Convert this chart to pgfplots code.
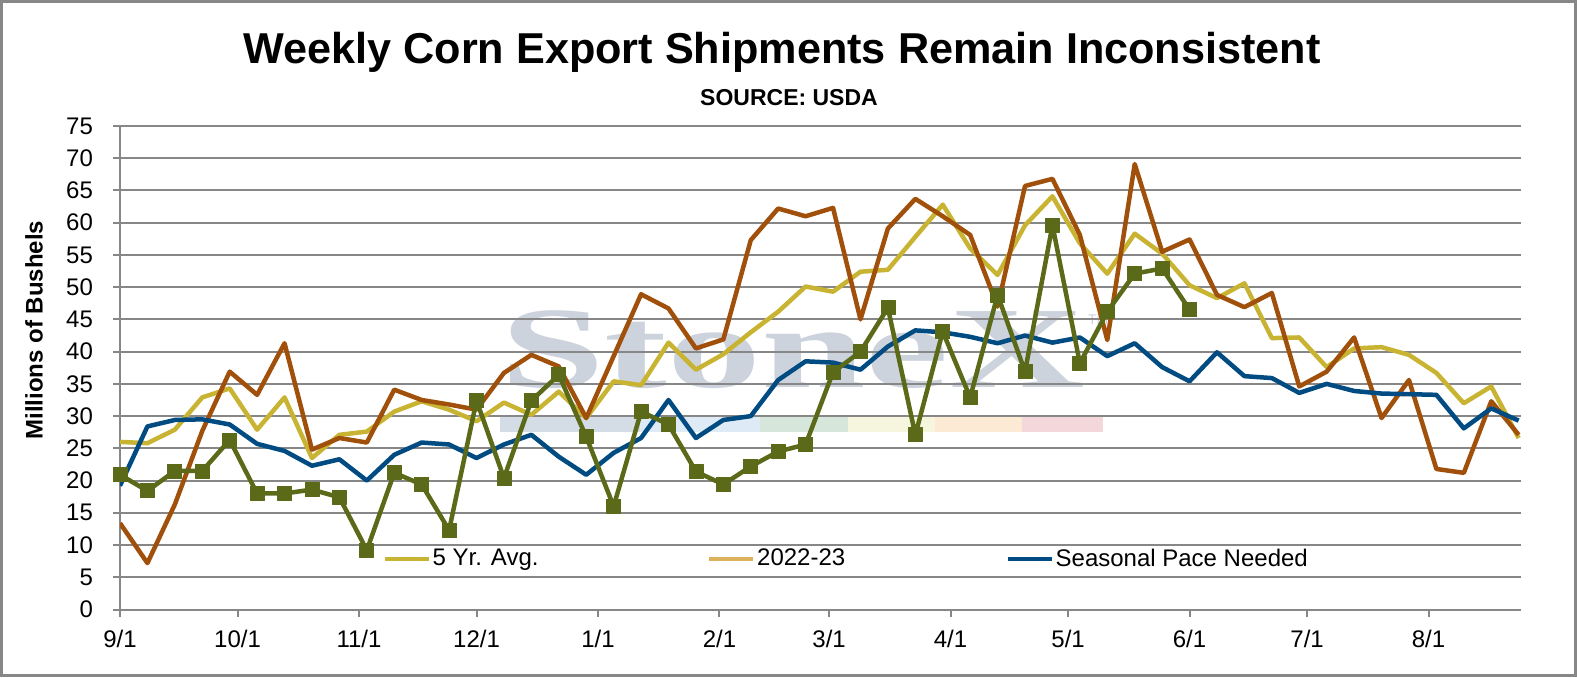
\documentclass[border=0pt]{standalone}
\usepackage{fontspec}
\setmainfont{Liberation Sans}
\newfontfamily\wmfont{Liberation Serif}
\usepackage{graphicx}
\usepackage{pgfplots}
\pgfplotsset{compat=1.18}
\definecolor{avgc}{RGB}{200,180,50}
\definecolor{brownc}{RGB}{160,80,10}
\definecolor{greenc}{RGB}{90,106,25}
\definecolor{bluec}{RGB}{0,75,130}
\definecolor{tanc}{RGB}{222,178,90}
\definecolor{gridc}{RGB}{135,135,135}
\definecolor{wmc}{RGB}{204,211,221}
\definecolor{s1}{RGB}{212,220,230}
\definecolor{s2}{RGB}{222,234,245}
\definecolor{s3}{RGB}{214,230,219}
\definecolor{s4}{RGB}{246,246,223}
\definecolor{s5}{RGB}{252,234,213}
\definecolor{s6}{RGB}{243,215,219}
\begin{document}
\begin{tikzpicture}
\begin{axis}[
  set layers,
  at={(0,0)}, anchor=south west,
  scale only axis, width=700.5pt, height=241.75pt,
  xmin=0, xmax=357.6, ymin=0, ymax=75,
  axis x line*=bottom, axis y line*=left,
  axis line style={gridc, line width=1pt},
  xtick={0,30,61,91,122,153,181,212,242,273,303,334},
  xticklabels={9/1,10/1,11/1,12/1,1/1,2/1,3/1,4/1,5/1,6/1,7/1,8/1},
  ytick={0,5,...,75},
  ymajorgrids, major grid style={gridc, line width=1pt},
  tick align=outside, major tick length=3.5pt,
  tick style={gridc, line width=1pt},
  tick label style={font=\fontsize{12}{14}\selectfont},
  yticklabel style={xshift=-6.5pt},
  xticklabel style={yshift=-3.5pt},
  /pgf/number format/assume math mode=true,
  ylabel={Millions of Bushels},
  ylabel style={at={(axis description cs:-0.0614,0.578)}, anchor=center, font=\bfseries\fontsize{12}{14}\selectfont},
  legend style={at={(axis description cs:0.1872,0.1044)}, anchor=west, draw=none, fill=none, inner sep=0pt,
    font=\fontsize{12}{14}\selectfont, column sep=0pt, nodes={inner sep=0.75pt}},
  legend columns=3,
  legend image code/.code={\draw[#1] (0pt,0pt) -- (22pt,0pt);},
]
\begin{pgfonlayer}{axis background}
\fill[s1] (axis cs:97,27.5) rectangle (axis cs:132.7,30.2);
\fill[s2] (axis cs:132.7,27.5) rectangle (axis cs:163.3,30.2);
\fill[s3] (axis cs:163.3,27.5) rectangle (axis cs:185.8,30.2);
\fill[s4] (axis cs:185.8,27.5) rectangle (axis cs:208,30.2);
\fill[s5] (axis cs:208,27.5) rectangle (axis cs:230.2,30.2);
\fill[s6] (axis cs:230.2,27.5) rectangle (axis cs:251,30.2);
\node[anchor=base west, text=wmc, inner sep=0pt, font=\wmfont\bfseries\fontsize{58}{58}\selectfont] at (axis cs:97,34.5) {\scalebox{1.62}[1]{StoneX}};
\node[anchor=west, text=wmc, inner sep=0pt, font=\fontsize{7}{7}\selectfont] at (axis cs:247,44.9) {TM};
\end{pgfonlayer}

\addplot[avgc, line width=2.25pt, line join=round] coordinates {
(0,26.0)(7,25.8)(14,27.9)(21,32.9)(28,34.3)(35,27.9)(42,32.9)(49,23.5)(56,27.1)(63,27.6)
(70,30.7)(77,32.3)(84,31.0)(91,29.2)(98,32.1)(105,30.2)(112,33.8)(119,29.7)(126,35.4)(133,34.8)
(140,41.4)(147,37.2)(154,39.6)(161,43.0)(168,46.2)(175,50.1)(182,49.3)(189,52.4)(196,52.7)(203,57.8)
(210,62.8)(217,56.0)(224,51.9)(231,59.6)(238,64.1)(245,56.8)(252,52.1)(259,58.3)(266,55.2)(273,50.3)
(280,48.3)(287,50.6)(294,42.1)(301,42.2)(308,37.6)(315,40.5)(322,40.7)(329,39.5)(336,36.7)(343,32.0)
(350,34.6)(357,26.6)};
\addlegendentry{\makebox[136.5pt][l]{5 Yr. Avg.}}
\addlegendimage{tanc, line width=2.25pt}
\addlegendentry{\makebox[123.5pt][l]{2022-23}}

\addplot[brownc, line width=2.25pt, line join=round, forget plot] coordinates {
(0,13.4)(7,7.2)(14,16.3)(21,27.7)(28,36.9)(35,33.3)(42,41.3)(49,24.8)(56,26.6)(63,25.9)
(70,34.1)(77,32.5)(84,31.8)(91,31.0)(98,36.7)(105,39.5)(112,37.7)(119,29.7)(126,39.3)(133,48.9)
(140,46.7)(147,40.5)(154,41.9)(161,57.3)(168,62.2)(175,61.0)(182,62.3)(189,45.0)(196,59.1)(203,63.7)
(210,61.0)(217,58.1)(224,47.0)(231,65.7)(238,66.8)(245,58.1)(252,41.8)(259,69.1)(266,55.5)(273,57.4)
(280,48.8)(287,46.9)(294,49.1)(301,34.6)(308,36.9)(315,42.2)(322,29.7)(329,35.6)(336,21.8)(343,21.2)
(350,32.3)(357,27.1)};

\addplot[bluec, line width=2.25pt, line join=round] coordinates {
(0,19.2)(7,28.4)(14,29.4)(21,29.5)(28,28.7)(35,25.7)(42,24.6)(49,22.3)(56,23.3)(63,20.0)
(70,24.0)(77,25.9)(84,25.6)(91,23.5)(98,25.6)(105,27.1)(112,23.7)(119,20.9)(126,24.3)(133,26.6)
(140,32.5)(147,26.6)(154,29.4)(161,30.0)(168,35.6)(175,38.5)(182,38.3)(189,37.2)(196,40.8)(203,43.3)
(210,43.0)(217,42.3)(224,41.3)(231,42.5)(238,41.4)(245,42.2)(252,39.3)(259,41.3)(266,37.6)(273,35.4)
(280,39.9)(287,36.2)(294,35.9)(301,33.6)(308,35.0)(315,33.9)(322,33.5)(329,33.4)(336,33.3)(343,28.1)
(350,31.2)(357,29.3)};
\addlegendentry{Seasonal Pace Needed}

\addplot[greenc, line width=2.25pt, line join=round, mark=square*, mark size=3.5pt,
  mark options={solid, line width=0.4pt, fill=greenc, draw=greenc}, forget plot] coordinates {
(0,20.9)(7,18.4)(14,21.5)(21,21.5)(28,26.3)(35,18.0)(42,18.0)(49,18.6)(56,17.4)(63,9.2)
(70,21.2)(77,19.4)(84,12.3)(91,32.4)(98,20.4)(105,32.4)(112,36.4)(119,26.8)(126,16.0)(133,30.7)
(140,28.7)(147,21.4)(154,19.4)(161,22.2)(168,24.5)(175,25.6)(182,36.8)(189,40.0)(196,46.8)(203,27.1)
(210,43.1)(217,32.9)(224,48.8)(231,36.9)(238,59.6)(245,38.2)(252,46.2)(259,52.1)(266,52.9)(273,46.5)};
\end{axis}
\node[anchor=base, font=\bfseries\fontsize{21.6}{24}\selectfont] at (331pt,273.1pt) {Weekly Corn Export Shipments Remain Inconsistent};
\node[anchor=base, font=\bfseries\fontsize{11.5}{13}\selectfont] at (334.5pt,252.25pt) {SOURCE: USDA};
\draw[gridc, line width=1.5pt] (-59.25pt,-33pt) rectangle (727.75pt,304pt);
\pgfresetboundingbox
\useasboundingbox (-60pt,-33.75pt) rectangle (728.5pt,304.75pt);
\end{tikzpicture}
\end{document}
